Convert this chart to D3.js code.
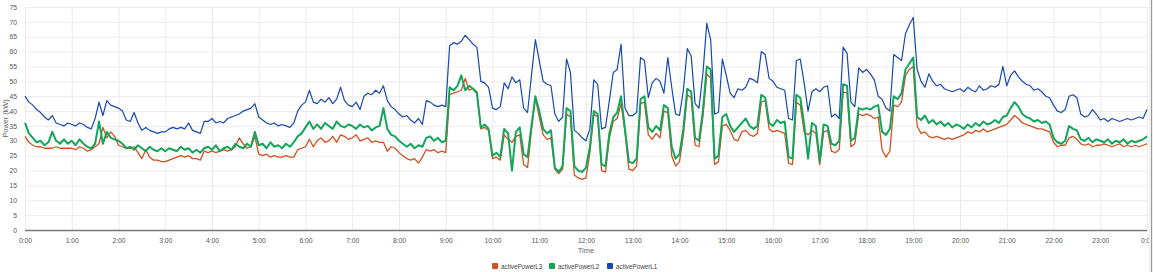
<!DOCTYPE html>
<html>
<head>
<meta charset="utf-8">
<script src="https://cdn.jsdelivr.net/npm/d3@7"></script>
<style>
  body { margin: 0; background: #fff; }
  text { font-family: "Liberation Sans", Arial, sans-serif; }
</style>
</head>
<body>
<svg id="chart" width="1153" height="272"></svg>
<script>
// readings every 5 minutes, one row per hour (kW)
const activePowerL1 = [
  45, 43, 42, 40.5, 39.5, 38, 37, 38.5, 36, 35.5, 35, 36,
  35.5, 35, 36, 35.5, 34.5, 34, 37.5, 43, 38.5, 43.5, 42, 41.5,
  41, 40, 37, 36.5, 39.5, 36, 33.5, 34.5, 33.5, 33, 32.5, 33,
  33, 34, 34.5, 34, 34.5, 34, 36, 33.5, 33, 32.5, 36.5, 36.5,
  37.5, 36, 36.5, 36, 37.5, 38, 38.5, 39, 40, 40.5, 41, 42.5,
  38, 37, 36, 35.5, 36, 35, 35.5, 35, 34.5, 36, 40, 42,
  43, 47, 43, 42.5, 44, 43, 44.5, 42.5, 44, 48, 43.5, 42,
  41.5, 43, 40.5, 45, 46, 45.5, 47, 46, 48.5, 43.5, 41.5, 40.5,
  39, 38, 38.5, 37, 36, 37.5, 35.5, 43.5, 43, 42, 41.5, 42,
  41.5, 62, 63, 62.5, 63.5, 65.5, 64, 62.5, 61.5, 50, 49.5, 48,
  41, 40.5, 41.5, 49.5, 47.5, 51.5, 49.5, 50.5, 41, 39.5, 52, 64,
  57, 50, 49, 48.5, 39, 36.5, 38, 57.5, 53, 33.5, 32.5, 31,
  30, 34, 50.5, 49, 34, 34.5, 43.5, 53, 54, 62.5, 41, 38.5,
  38.5, 39.5, 58, 57, 44.5, 49.5, 51, 50, 46, 58, 48, 39,
  38.5, 47, 61, 58.5, 42.5, 41, 52.5, 69.5, 64, 39, 39.5, 57.5,
  52, 46, 44.5, 47.5, 47, 48, 51, 50.5, 49.5, 60, 59, 51,
  50, 48, 47.5, 47, 37.5, 37, 57, 57.5, 49.5, 40, 46.5, 47.5,
  46.5, 48, 48.5, 38, 39, 37.5, 61.5, 59.5, 43, 41.5, 54.5, 53,
  54, 52.5, 50.5, 45, 44, 41, 40, 59, 58, 57, 66, 69,
  71.5, 54, 50, 48, 52.5, 50, 48.5, 49, 47.5, 47, 46.5, 47,
  47.5, 46.5, 48, 47, 46.5, 48.5, 47, 47.5, 48.5, 48, 49, 55,
  48.5, 52, 53.5, 51.5, 50, 49, 48.5, 47, 47.5, 46.5, 45, 44.5,
  42, 40, 39.5, 40.5, 45, 45.5, 44.5, 39, 38, 38.5, 40.5, 39,
  37, 37.5, 36.5, 37.5, 37, 36.5, 37, 37.5, 37, 37.5, 38, 37.5,
  40.5
]

const activePowerL2 = [
  36, 32.5, 31, 29.5, 30, 28.5, 29.5, 33, 30, 29, 30.5, 29,
  30, 28.5, 30.5, 29, 28, 27.5, 29, 36.5, 29, 33, 31, 30.5,
  30, 29, 27.5, 28, 27, 28.5, 27.5, 26.5, 28, 27, 26.5, 27.5,
  26.5, 27.5, 27, 26.5, 28, 27, 27.5, 26, 27, 26, 27.5, 28,
  27, 28.5, 26.5, 27.5, 28, 27, 29, 28, 27.5, 29, 28, 33,
  28.5, 29, 27.5, 29.5, 28, 28.5, 27.5, 29, 28, 29.5, 31.5, 32.5,
  34.5, 36.5, 34, 35.5, 34, 36, 35, 34, 36.5, 35, 34.5, 35.5,
  35, 34, 35.5, 34.5, 35, 33.5, 34.5, 35, 41, 34, 32, 31.5,
  30, 29, 28, 29, 27.5, 28.5, 28, 31, 31.5, 30, 31, 29.5,
  30, 48, 47, 48.5, 52, 47, 48.5, 47.5, 46, 34.5, 35.5, 34,
  25, 26, 24.5, 34, 32.5, 20, 33, 34.5, 25.5, 24.5, 35, 45,
  40, 34, 32.5, 33.5, 21, 19.5, 21.5, 41, 40, 21.5, 20, 19.5,
  21, 28, 40, 39, 22, 21.5, 32.5, 38, 39.5, 45, 34, 23,
  22.5, 24, 44, 45, 34.5, 33, 35, 33.5, 42, 41, 28, 24,
  25.5, 34, 47.5, 46.5, 31, 30, 40, 55, 54, 24, 25, 38,
  39, 35, 33, 34.5, 36, 37.5, 35, 34, 35, 45.5, 44.5, 36,
  35, 37, 36, 36.5, 24.5, 24, 45.5, 44.5, 35.5, 24, 36, 35,
  23, 35.5, 35, 29, 28.5, 30, 49, 48.5, 30, 31, 41, 40.5,
  41, 40.5, 41.5, 42, 33, 32, 34, 45, 44, 46, 54, 56,
  58, 38, 37, 38.5, 36, 37, 35.5, 36.5, 35, 36, 34.5, 35.5,
  35, 34, 35.5, 34.5, 36, 35, 36.5, 35.5, 36, 37, 36, 38,
  38.5, 41, 43, 41.5, 39, 38, 37.5, 36.5, 37, 36, 36.5, 35.5,
  31, 29.5, 29, 30, 35, 34, 33.5, 30.5, 30, 31, 29.5, 30.5,
  30, 29.5, 30.5, 29, 30, 29.5, 30.5, 29, 30, 29.5, 30, 30.5,
  31.5
]

const activePowerL3 = [
  31.5, 29.5, 28.5, 28, 28, 27.5, 27.5, 27.5, 28, 27.5, 27.5, 27.5,
  27.5, 27, 28, 27.5, 26.5, 27, 28, 29, 34.5, 31, 33, 31.5,
  28.5, 28, 27.5, 27.5, 28, 26, 24, 27, 24.5, 23.5, 23.5, 23,
  23, 23.5, 24, 24.5, 25, 24.5, 25, 24, 24, 23.5, 26.5, 26,
  26.5, 26, 26.5, 27, 26.5, 27, 28, 31, 29, 27.5, 28, 31.5,
  25.5, 25, 25.5, 24.5, 25, 24.5, 24.5, 25, 24.5, 24.5, 27, 27.5,
  28, 30.5, 28, 30, 31, 29.5, 30, 31.5, 29.5, 32, 31.5, 30.5,
  31, 32, 30, 30.5, 31, 29.5, 30, 29.5, 29.5, 26.5, 28, 27.5,
  26, 25, 24, 23.5, 24, 22.5, 24.5, 27, 26.5, 27, 26, 26.5,
  26, 45.5, 46, 46.5, 47, 51, 47, 47.5, 46.5, 34, 34.5, 33.5,
  24, 24.5, 23.5, 32, 30.5, 29.5, 31.5, 32, 22, 21, 33.5, 44.5,
  38, 32, 30.5, 31, 20.5, 19, 20.5, 39, 38, 18.5, 17.5, 17,
  17.5, 26, 39, 38, 20, 19.5, 31, 36.5, 37.5, 42.5, 33, 20.5,
  20, 21.5, 42.5, 43, 32, 30.5, 32.5, 31, 40, 39.5, 25, 21.5,
  23, 32, 45.5, 44.5, 28.5, 28, 38, 52.5, 51, 22, 23, 35,
  35.5, 33.5, 30.5, 30, 33, 33.5, 32, 31.5, 32.5, 43, 43.5, 34,
  33, 33.5, 33, 32.5, 22.5, 22, 43, 42, 33, 32, 33.5, 32.5,
  22, 33, 33.5, 26.5, 26, 27, 46.5, 46, 28, 29, 39, 38.5,
  39, 38.5, 37.5, 38, 27, 24.5, 26.5, 42, 41.5, 43, 52, 54,
  55, 35, 32.5, 33, 31.5, 31, 31.5, 31, 30.5, 31, 30.5, 31,
  31.5, 32, 33, 32.5, 33.5, 33, 34, 33, 33.5, 34, 34.5, 35,
  35.5, 37, 38.5, 37.5, 36, 35.5, 35, 34.5, 34, 34, 33.5, 33,
  29.5, 28, 28.5, 28.5, 31, 31.5, 30.5, 29, 28.5, 29, 28, 28.5,
  28.5, 29, 28.5, 28, 28.5, 29, 28, 28.5, 28, 28.5, 28, 28.5,
  29
]

const hourLabels = ["0:00", "1:00", "2:00", "3:00", "4:00", "5:00", "6:00", "7:00", "8:00",
  "9:00", "10:00", "11:00", "12:00", "13:00", "14:00", "15:00", "16:00", "17:00",
  "18:00", "19:00", "20:00", "21:00", "22:00", "23:00", "0:00"]
const powerTicks = [0, 5, 10, 15, 20, 25, 30, 35, 40, 45, 50, 55, 60, 65, 70, 75]

// drawing order matches the chart: L3 under L2 under L1
const series = [
  {name: "activePowerL3", values: activePowerL3, color: "#cf5220", width: 1.3},
  {name: "activePowerL2", values: activePowerL2, color: "#14a55c", width: 2},
  {name: "activePowerL1", values: activePowerL1, color: "#1648b2", width: 1.2}
]

const svg = d3.select("#chart")
const plotLeft = 25, plotRight = 1147, plotTop = 7, plotBottom = 230

const x = d3.scaleLinear().domain([0, 24 * 60]).range([plotLeft, plotRight])
const y = d3.scaleLinear().domain([0, 75]).range([plotBottom, plotTop])

// grid
svg.append("g")
  .selectAll("line")
  .data(powerTicks)
  .join("line")
  .attr("x1", plotLeft).attr("x2", plotRight)
  .attr("y1", d => y(d) + 0.5).attr("y2", d => y(d) + 0.5)
  .attr("stroke", "#ebebeb")

svg.append("g")
  .selectAll("line")
  .data(hourLabels)
  .join("line")
  .attr("x1", (d, i) => x(i * 60) + 0.5).attr("x2", (d, i) => x(i * 60) + 0.5)
  .attr("y1", plotTop).attr("y2", plotBottom)
  .attr("stroke", "#ebebeb")

// y axis labels
const yAxis = svg.append("g")
  .attr("transform", `translate(${plotLeft - 8},0)`)
  .call(d3.axisLeft(y).tickValues(powerTicks).tickSize(0).tickPadding(0))
yAxis.select(".domain").remove()
yAxis.selectAll("text")
  .attr("font-size", 6.8)
  .attr("fill", "#555")
  .attr("font-family", "Liberation Sans, Arial, sans-serif")

// x axis labels
const xAxis = svg.append("g")
  .attr("transform", `translate(0,${plotBottom + 8})`)
  .call(d3.axisBottom(x)
    .tickValues(hourLabels.map((d, i) => i * 60))
    .tickFormat((d, i) => hourLabels[i])
    .tickSize(0).tickPadding(0))
xAxis.select(".domain").remove()
xAxis.selectAll("text")
  .attr("font-size", 6.8)
  .attr("fill", "#555")
  .attr("font-family", "Liberation Sans, Arial, sans-serif")

// the lines
const line = d3.line()
  .x((d, i) => x(i * 5))
  .y(d => y(d))

svg.append("g")
  .selectAll("path")
  .data(series)
  .join("path")
  .attr("fill", "none")
  .attr("stroke", d => d.color)
  .attr("stroke-width", d => d.width)
  .attr("stroke-linejoin", "round")
  .attr("d", d => line(d.values))

// baseline at 0
svg.append("line")
  .attr("x1", plotLeft).attr("x2", plotRight)
  .attr("y1", y(0) + 0.5).attr("y2", y(0) + 0.5)
  .attr("stroke", "#777")
  .attr("stroke-width", 1.3)

// axis titles
svg.append("text")
  .attr("x", (plotLeft + plotRight) / 2)
  .attr("y", 253)
  .attr("text-anchor", "middle")
  .attr("font-size", 7.5)
  .attr("fill", "#666")
  .text("Time")

svg.append("text")
  .attr("transform", `translate(8,${(plotTop + plotBottom) / 2}) rotate(-90)`)
  .attr("text-anchor", "middle")
  .attr("font-size", 7.3)
  .attr("fill", "#666")
  .text("Power (kW)")

// legend
const legendX = [492, 549, 607]
const legend = svg.append("g")
  .selectAll("g")
  .data(series)
  .join("g")
  .attr("transform", (d, i) => `translate(${legendX[i]},263)`)
legend.append("rect")
  .attr("width", 6).attr("height", 6).attr("rx", 1)
  .attr("fill", d => d.color)
legend.append("text")
  .attr("x", 9).attr("y", 5.6)
  .attr("font-size", 6.3)
  .attr("fill", "#444")
  .text(d => d.name)

// frame edge on the right
svg.append("rect")
  .attr("x", 1149).attr("y", 0).attr("width", 4).attr("height", 272)
  .attr("fill", "#f0f0f0")
svg.append("line")
  .attr("x1", 1151.5).attr("x2", 1151.5).attr("y1", 0).attr("y2", 272)
  .attr("stroke", "#999")
</script>
</body>
</html>
